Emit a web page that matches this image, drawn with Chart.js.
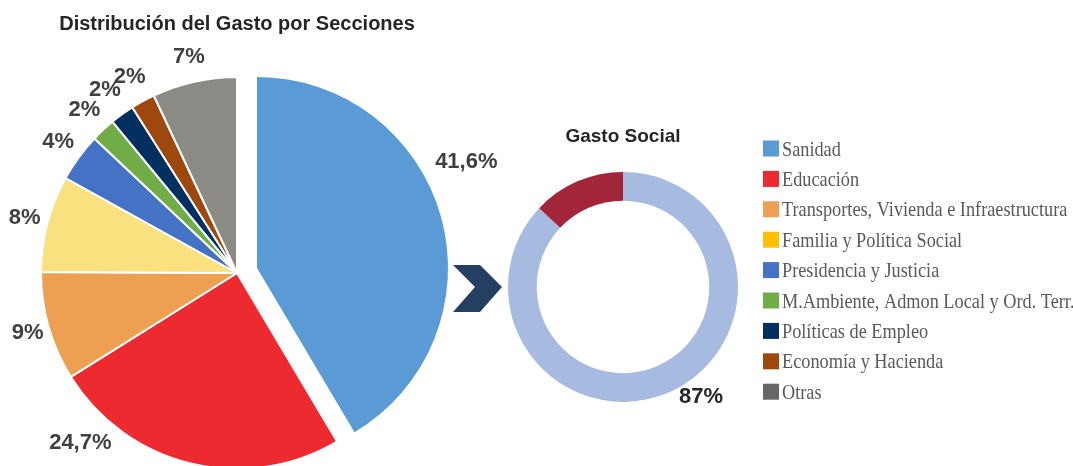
<!DOCTYPE html>
<html>
<head>
<meta charset="utf-8">
<script src="https://cdn.jsdelivr.net/npm/chart.js@4"></script>
<style>
  html, body { margin: 0; padding: 0; background: #fff; overflow: hidden; }
  body { width: 1073px; height: 466px; position: relative; }
  canvas { position: absolute; }
  #gasto { left: 0; top: 0; }
  #sanidad { left: 20px; top: -5px; }
  #social { left: 440px; top: 110px; }
</style>
</head>
<body>
<canvas id="gasto" width="520" height="510"></canvas>
<canvas id="sanidad" width="520" height="510"></canvas>
<canvas id="social" width="633" height="316"></canvas>
<script>
const secciones = [
  "Sanidad",
  "Educación",
  "Transportes, Vivienda e Infraestructura",
  "Familia y Política Social",
  "Presidencia y Justicia",
  "M.Ambiente, Admon Local y Ord. Terr.",
  "Políticas de Empleo",
  "Economía y Hacienda",
  "Otras",
];
const gastoValores = [41.6, 24.7, 9, 8, 4, 2, 2, 2, 7];
const gastoEtiquetas = ["41,6%", "24,7%", "9%", "8%", "4%", "2%", "2%", "2%", "7%"];

const socialCategorias = ["Gasto Social", "Resto"];
const socialValores = [87, 13];
const socialEtiquetas = ["87%", ""];

// colores
const coloresPie = ["#5B9BD5", "#EE2A31", "#EDA052", "#FAE17F", "#4472C4", "#70AD47", "#003060", "#9E480E", "#8C8A85"];
const coloresLeyenda = ["#5B9BD5", "#EE2A31", "#EDA052", "#FFC000", "#4472C4", "#70AD47", "#003060", "#9E480E", "#666666"];
const coloresSocial = ["#A7BBE0", "#A3253A"];
const transparente = "rgba(0,0,0,0)";

// ajuste de posicion de las etiquetas (grados / factor de radio)
const gastoGiro = [-10.5, 29, 0, 0, 0, 0, 0, 0, 0];
const gastoRadio = [1.3, 1.18, 1.11, 1.12, 1.13, 1.14, 1.15, 1.14, 1.13];
const socialGiro = [-12, 0];
const socialRadio = [1.17, 1.17];

// la porcion "Sanidad" va separada en su propio canvas (desplazado)
const separada = 0;
const coloresBase = coloresPie.map((c, i) => (i === separada ? transparente : c));
const bordesBase = coloresPie.map((c, i) => (i === separada ? transparente : "#ffffff"));
const coloresSeparada = coloresPie.map((c, i) => (i === separada ? c : transparente));

const etiquetasPlugin = {
  id: "etiquetas",
  afterDatasetsDraw(chart, args, opts) {
    if (!opts.textos) return;
    const ctx = chart.ctx;
    const arcs = chart.getDatasetMeta(0).data;
    ctx.save();
    ctx.font = opts.font;
    ctx.fillStyle = opts.color;
    ctx.textAlign = "center";
    ctx.textBaseline = "middle";
    arcs.forEach((arc, i) => {
      const txt = opts.textos[i];
      if (!txt) return;
      const p = arc.getProps(["x", "y", "startAngle", "endAngle", "outerRadius"], true);
      const mid = (p.startAngle + p.endAngle) / 2 + (opts.giro[i] * Math.PI) / 180;
      const r = p.outerRadius * opts.radio[i];
      ctx.fillText(txt, p.x + Math.cos(mid) * r, p.y + Math.sin(mid) * r);
    });
    ctx.restore();
  },
};

const flechaPlugin = {
  id: "flecha",
  afterDraw(chart) {
    const ctx = chart.ctx;
    ctx.save();
    ctx.fillStyle = "#243F60";
    ctx.beginPath();
    ctx.moveTo(13, 155);
    ctx.lineTo(40, 155);
    ctx.lineTo(62, 177);
    ctx.lineTo(40, 202);
    ctx.lineTo(13, 202);
    ctx.lineTo(35, 177);
    ctx.closePath();
    ctx.fill();
    ctx.restore();
  },
};

const leyendaPlugin = {
  id: "leyenda",
  afterDraw(chart) {
    const ctx = chart.ctx;
    ctx.save();
    secciones.forEach((nombre, i) => {
      const y = 38.5 + i * 30.4;
      ctx.fillStyle = coloresLeyenda[i];
      ctx.fillRect(323, y - 8, 16, 16);
      ctx.save();
      ctx.translate(342, y + 7);
      ctx.scale(0.87, 1);
      ctx.font = "21px 'Liberation Serif', 'Times New Roman', serif";
      ctx.fillStyle = "#595959";
      ctx.textBaseline = "alphabetic";
      ctx.fillText(nombre, 0, 0);
      ctx.restore();
    });
    ctx.restore();
  },
};

new Chart(document.getElementById("gasto"), {
  type: "pie",
  data: {
    labels: secciones,
    datasets: [
      {
        data: gastoValores,
        backgroundColor: coloresBase,
        borderColor: bordesBase,
        borderWidth: 2,
      },
    ],
  },
  options: {
    responsive: false,
    animation: false,
    events: [],
    radius: 196,
    layout: { padding: { left: 0, right: 46, top: 0, bottom: 0 } },
    plugins: {
      legend: { display: false },
      tooltip: { enabled: false },
      title: {
        display: true,
        text: "Distribución del Gasto por Secciones",
        color: "#262626",
        font: { family: "'Liberation Sans', Arial, sans-serif", size: 20, weight: "bold" },
        padding: { top: 12, bottom: 0 },
      },
      etiquetas: {
        textos: gastoEtiquetas,
        giro: gastoGiro,
        radio: gastoRadio,
        font: "bold 22px 'Liberation Sans', Arial, sans-serif",
        color: "#404040",
      },
    },
  },
  plugins: [etiquetasPlugin],
});

// porcion separada, mismo area que el grafico base (36px = alto del titulo)
new Chart(document.getElementById("sanidad"), {
  type: "pie",
  data: {
    labels: secciones,
    datasets: [
      {
        data: gastoValores,
        backgroundColor: coloresSeparada,
        borderWidth: 0,
      },
    ],
  },
  options: {
    responsive: false,
    animation: false,
    events: [],
    radius: 191,
    layout: { padding: { left: 0, right: 46, top: 36, bottom: 0 } },
    plugins: {
      legend: { display: false },
      tooltip: { enabled: false },
    },
  },
});

new Chart(document.getElementById("social"), {
  type: "doughnut",
  data: {
    labels: socialCategorias,
    datasets: [
      {
        data: socialValores,
        backgroundColor: coloresSocial,
        borderWidth: 0,
      },
    ],
  },
  options: {
    responsive: false,
    animation: false,
    events: [],
    radius: 115,
    cutout: "75%",
    layout: { padding: { left: 0, right: 267, top: 0, bottom: 0 } },
    plugins: {
      legend: { display: false },
      tooltip: { enabled: false },
      title: {
        display: true,
        text: "Gasto Social",
        color: "#262626",
        font: { family: "'Liberation Sans', Arial, sans-serif", size: 19, weight: "bold" },
        padding: { top: 15, bottom: 0 },
      },
      etiquetas: {
        textos: socialEtiquetas,
        giro: socialGiro,
        radio: socialRadio,
        font: "bold 22px 'Liberation Sans', Arial, sans-serif",
        color: "#262626",
      },
    },
  },
  plugins: [etiquetasPlugin, flechaPlugin, leyendaPlugin],
});
</script>
</body>
</html>
